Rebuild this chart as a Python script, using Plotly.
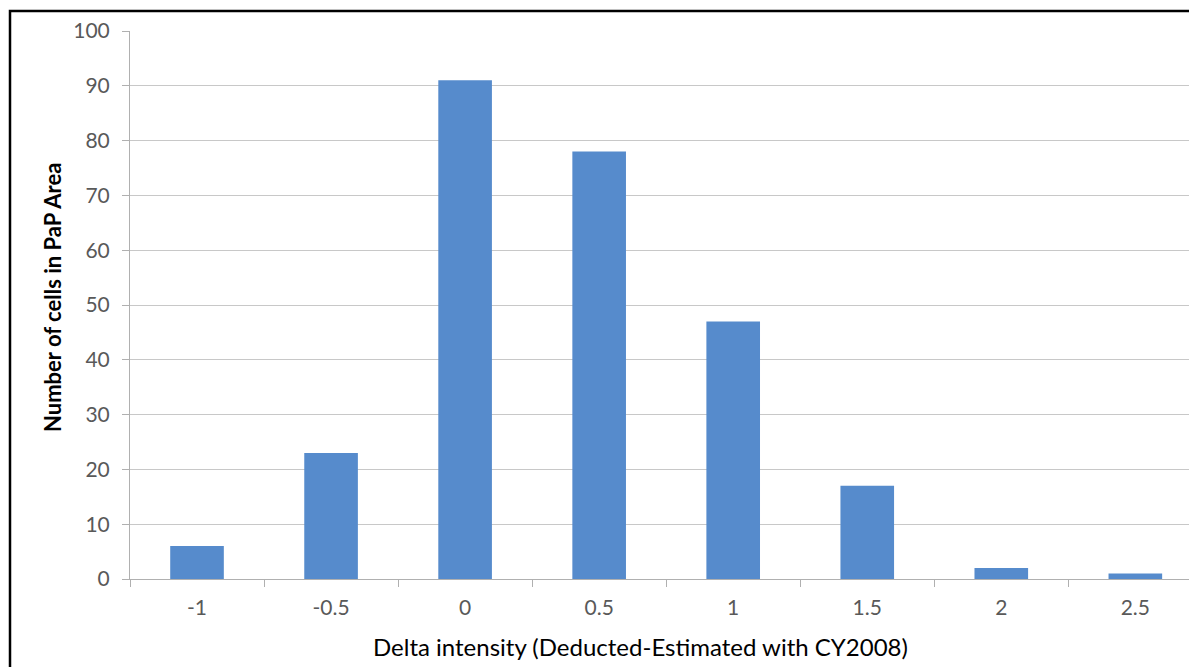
import plotly.graph_objects as go

categories = ["-1", "-0.5", "0", "0.5", "1", "1.5", "2", "2.5"]
counts = [6, 23, 91, 78, 47, 17, 2, 1]
y_ticks = list(range(0, 101, 10))

OFF = 8  # browser body margin
W, H = 1197 - OFF, 667 - OFF
# target pixel positions in the final screenshot
PL, PR, PT, PB = 130, 1197, 31, 579
L, T = PL - OFF, PT - OFF
R = W - (PR - OFF)
B = H - (PB - OFF)
pw, ph = PR - PL, PB - PT

def px_x(x):
    return (x - PL) / pw

def px_y(y):
    return (PB - y) / ph

fig = go.Figure(go.Bar(x=categories, y=counts, marker=dict(color="#568BCC", line=dict(width=0))))

font_fam = "Lato, 'Open Sans', sans-serif"
fig.update_layout(
    width=W, height=H,
    margin=dict(l=L, r=R, t=T, b=B),
    paper_bgcolor="white", plot_bgcolor="white",
    bargap=0.6,
    showlegend=False,
    font=dict(family=font_fam, color="#595959"),
    xaxis=dict(
        type="category", range=[-0.5, 7.46],
        showgrid=False, showline=True, linecolor="#B0B0B0", linewidth=1,
        ticks="outside", tickson="boundaries", ticklen=7, tickcolor="#B0B0B0",
        tickfont=dict(size=21, color="#595959", family=font_fam),
        ticklabelstandoff=10,
        zeroline=False,
    ),
    yaxis=dict(
        range=[0, 100], tickvals=y_ticks,
        showgrid=True, gridcolor="#C8C8C8", gridwidth=1,
        showline=True, linecolor="#B0B0B0", linewidth=1,
        ticks="outside", ticklen=7, tickcolor="#B0B0B0",
        tickfont=dict(size=21, color="#595959", family=font_fam),
        ticklabelstandoff=8,
        zeroline=False,
    ),
    annotations=[
        dict(
            text="Delta intensity (Deducted-Estimated with CY2008)",
            xref="paper", yref="paper", x=px_x(640), y=px_y(646),
            xanchor="center", yanchor="middle", showarrow=False,
            font=dict(size=24, color="#000000", family=font_fam),
        ),
        dict(
            text="<b>Number of cells in PaP Area</b>",
            xref="paper", yref="paper", x=px_x(52), y=px_y(298),
            xanchor="center", yanchor="middle", showarrow=False, textangle=-90,
            font=dict(size=22, color="#000000", family=font_fam),
        ),
    ],
    shapes=[dict(
        type="rect", xref="paper", yref="paper",
        x0=px_x(10), x1=px_x(1240), y0=px_y(720), y1=px_y(11),
        line=dict(color="#000000", width=2.5), fillcolor="rgba(0,0,0,0)", layer="above",
    )],
)

fig.write_html("out.html")
